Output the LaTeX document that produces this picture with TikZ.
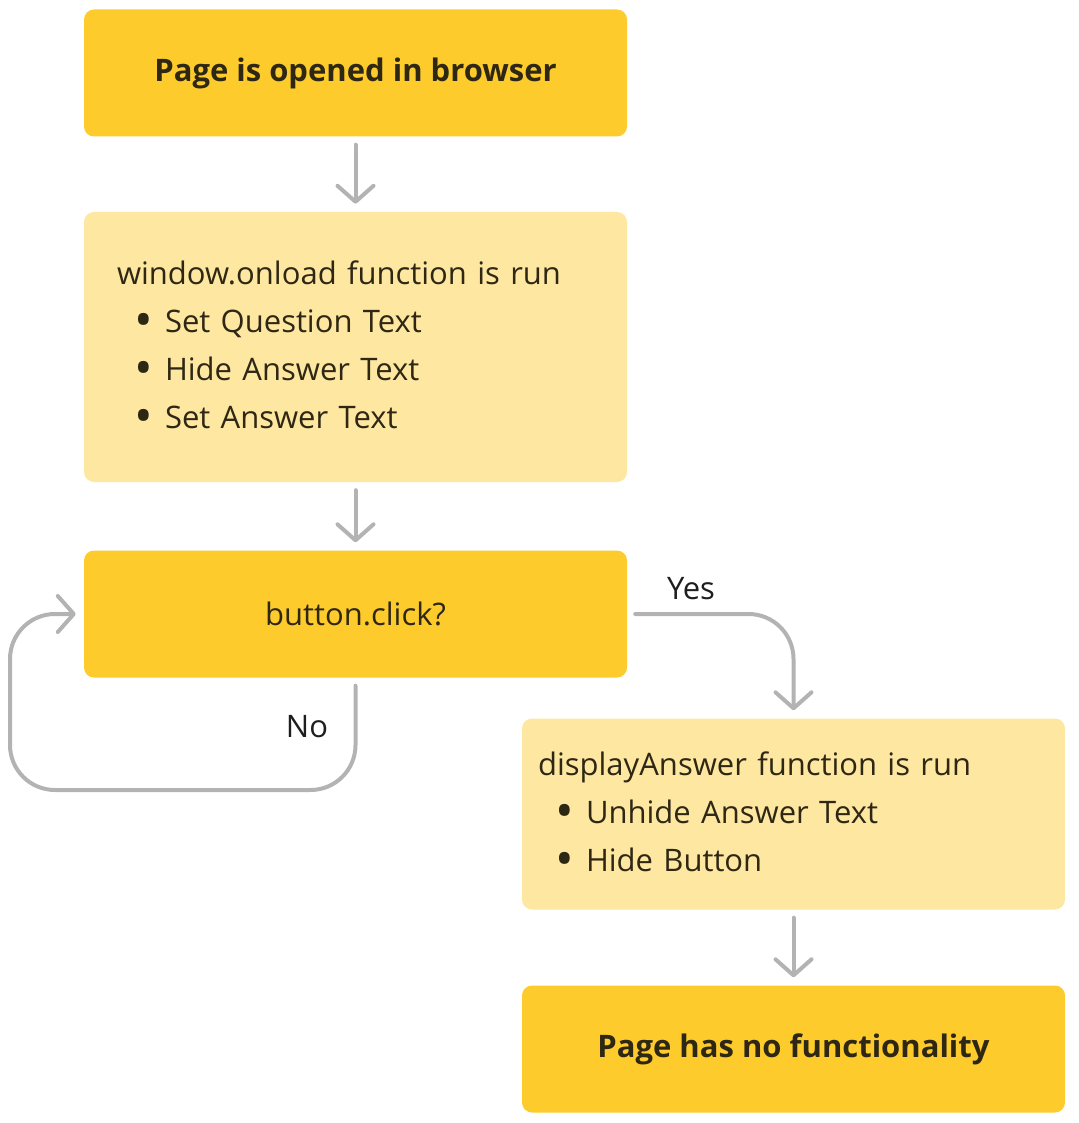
\documentclass[tikz,border=0pt]{standalone}
\usepackage{fontspec}
\setmainfont{Open Sans}
\usetikzlibrary{arrows.meta}
\definecolor{boxdark}{HTML}{FDCB2B}
\definecolor{boxlight}{HTML}{FEE7A1}
\definecolor{flowgrey}{HTML}{B3B3B3}
\definecolor{boxtext}{HTML}{2E2714}
\definecolor{labeltext}{HTML}{1E1E1E}
\newcommand{\flowbullet}{\hspace*{17pt}\makebox[31pt][l]{\raisebox{-4.5pt}{\scalebox{1.6}{\textbullet}}}}
\begin{document}
\begin{tikzpicture}[x=1pt, y=-1pt,
  darkbox/.style={fill=boxdark, rounded corners=10pt, minimum width=543pt, minimum height=127pt, text=boxtext, font=\fontsize{31}{48}\selectfont\bfseries},
  lightbox/.style={fill=boxlight, rounded corners=10pt, text width=477pt, inner xsep=33pt, align=left, text=boxtext, font=\fontsize{31}{48}\selectfont},
  flow/.style={draw=flowgrey, line width=4pt, line cap=round, shorten <=8pt, shorten >=8pt, -{Straight Barb[length=16pt, width=36pt, round]}},
  flowlabel/.style={text=labeltext, font=\fontsize{31}{34}\selectfont}]
\useasboundingbox (0, 0) rectangle (1078, 1123);
\node [darkbox] (opened) at (355.5, 73) {Page is opened in browser};
\node [lightbox, minimum height=270pt] (onload) at (355.5, 347) {window.onload function is run\\
  \flowbullet Set Question Text\\
  \flowbullet Hide Answer Text\\
  \flowbullet Set Answer Text};
\node [darkbox, font=\fontsize{31}{48}\selectfont] (click) at (355.5, 614) {button.click?};
\node [lightbox, minimum height=191pt, inner xsep=16pt, text width=511pt] (display) at (793.5, 814) {displayAnswer function is run\\
  \flowbullet Unhide Answer Text\\
  \flowbullet Hide Button};
\node [darkbox] (nofunc) at (793.5, 1049) {Page has no functionality};
\coordinate (loopcorner) at (10, 790);
\node [flowlabel] (yes) at (691, 589) {Yes};
\node [flowlabel] (no) at (307, 727) {No};
\draw [flow] (opened) -- (onload);
\draw [flow] (onload) -- (click);
\draw [flow, rounded corners=45pt] (click.east) -| (display.north);
\draw [flow, rounded corners=45pt] (click.south) |- (loopcorner) |- (click.west);
\draw [flow] (display) -- (nofunc);
\end{tikzpicture}
\end{document}
